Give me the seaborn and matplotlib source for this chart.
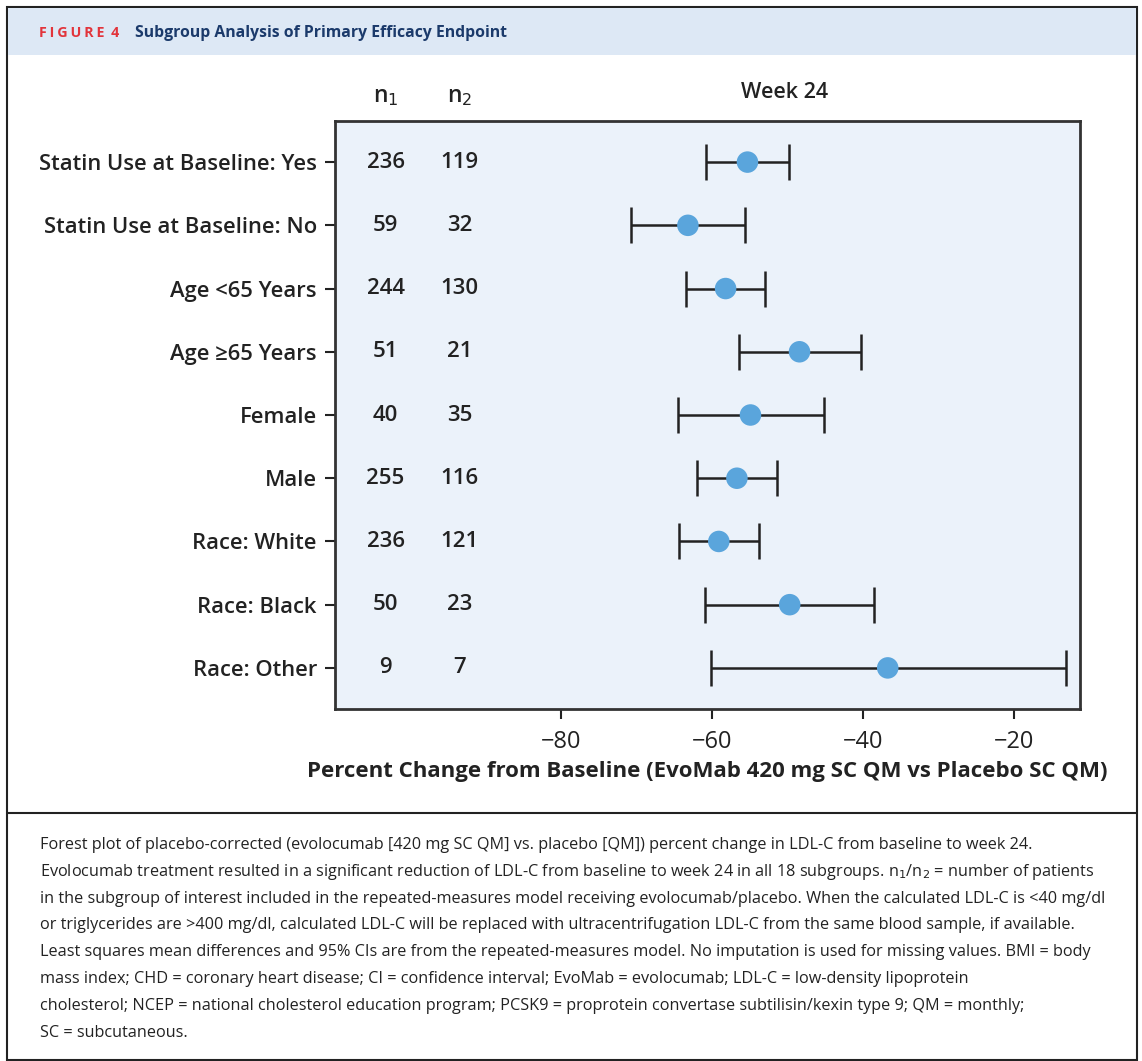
import matplotlib
matplotlib.use("Agg")
import matplotlib.pyplot as plt
import seaborn as sns
import pandas as pd
from matplotlib.patches import Rectangle
from matplotlib.lines import Line2D

# Data
subgroups = ['Statin Use at Baseline: Yes', 'Statin Use at Baseline: No',
             'Age <65 Years', 'Age \u226565 Years', 'Female', 'Male',
             'Race: White', 'Race: Black', 'Race: Other']
n1 = [236, 59, 244, 51, 40, 255, 236, 50, 9]
n2 = [119, 32, 130, 21, 35, 116, 121, 23, 7]
estimate = [-55.3, -63.2, -58.2, -48.4, -54.9, -56.7, -59.1, -49.7, -36.7]
ci_low = [-60.8, -70.8, -63.4, -56.4, -64.5, -62.0, -64.4, -60.9, -60.1]
ci_high = [-49.8, -55.6, -53.0, -40.2, -45.2, -51.4, -53.8, -38.5, -13.1]
x_ticks = [-80, -60, -40, -20]

df = pd.DataFrame({'group': subgroups, 'n1': n1, 'n2': n2,
                   'est': estimate, 'lo': ci_low, 'hi': ci_high})
df['row'] = range(len(df))

sns.set_style("white")
plt.rcParams['font.family'] = ['Open Sans', 'DejaVu Sans']

W, H = 1142, 1061
fig = plt.figure(figsize=(W / 100, H / 100), dpi=100)

def fx(px):
    return px / W

def fy(py):
    return 1 - py / H

# outer frame, header band and divider
fig.patches.append(Rectangle((fx(7), fy(1060)), fx(1130), (1053) / H,
                             transform=fig.transFigure, fill=False,
                             edgecolor='#222222', linewidth=1.5))
fig.patches.append(Rectangle((fx(8), fy(55)), fx(1128), 47 / H,
                             transform=fig.transFigure, facecolor='#DDE8F5',
                             edgecolor='none'))
fig.lines.append(Line2D([fx(7), fx(1137)], [fy(813), fy(813)],
                        transform=fig.transFigure, color='#222222', linewidth=1.5))

fig.text(fx(39), fy(33), '\u2009'.join('FIGURE') + ' \u20094', color='#E2343B',
         fontsize=10.3, fontweight='bold', va='center', ha='left',
         family=['Open Sans', 'DejaVu Sans'])
fig.text(fx(135), fy(33), 'Subgroup Analysis of Primary Efficacy Endpoint',
         color='#1B3A6B', fontsize=11.3, fontweight='bold', va='center', ha='left')

# main axes
ax = fig.add_axes([fx(335), 1 - 709 / H, fx(745), 588 / H])
ax.set_facecolor('#EBF2FA')

ax.errorbar(df['est'], df['row'],
            xerr=[df['est'] - df['lo'], df['hi'] - df['est']],
            fmt='none', ecolor='#222222', elinewidth=1.8, capsize=13,
            capthick=1.8, zorder=2)
sns.scatterplot(data=df, x='est', y='row', ax=ax, s=240, color='#5AA5DC',
                edgecolor='none', zorder=3, legend=False)

for _, r in df.iterrows():
    ax.text(-103.3, r['row'], str(r['n1']), ha='center', va='center',
            fontsize=16, fontweight='semibold', color='#222222')
    ax.text(-93.5, r['row'], str(r['n2']), ha='center', va='center',
            fontsize=16, fontweight='semibold', color='#222222')

ax.set_xlim(-110, -11.2)
ax.set_ylim(len(df) - 0.35, -0.65)
ax.set_yticks(df['row'])
ax.set_yticklabels(df['group'], fontsize=15.8, fontweight='semibold',
                   color='#222222')
ax.set_xticks(x_ticks)
ax.set_xticklabels(['\u2212' + str(abs(t)) for t in x_ticks], fontsize=17,
                   color='#222222')
ax.tick_params(axis='both', direction='out', length=7, width=1.5,
               color='#222222', left=True, bottom=True, pad=8)
ax.tick_params(axis='y', pad=6)
ax.set_xlabel('Percent Change from Baseline (EvoMab 420 mg SC QM vs Placebo SC QM)',
              fontsize=16, fontweight='bold', color='#222222', labelpad=5)
ax.set_ylabel('')
for s in ax.spines.values():
    s.set_color('#333333')
    s.set_linewidth(2)

# column headers
ax.text(-103.3, -1.05, r'n$_1$', ha='center', va='center', fontsize=16.5,
        fontweight='semibold', color='#222222')
ax.text(-93.5, -1.05, r'n$_2$', ha='center', va='center', fontsize=16.5,
        fontweight='semibold', color='#222222')
ax.text(-50.4, -1.1, 'Week 24', ha='center', va='center', fontsize=15.5,
        fontweight='semibold', color='#222222')

caption = [
    'Forest plot of placebo-corrected (evolocumab [420 mg SC QM] vs. placebo [QM]) percent change in LDL-C from baseline to week 24.',
    'Evolocumab treatment resulted in a significant reduction of LDL-C from baseline to week 24 in all 18 subgroups. n$_1$/n$_2$ = number of patients',
    'in the subgroup of interest included in the repeated-measures model receiving evolocumab/placebo. When the calculated LDL-C is <40 mg/dl',
    'or triglycerides are >400 mg/dl, calculated LDL-C will be replaced with ultracentrifugation LDL-C from the same blood sample, if available.',
    'Least squares mean differences and 95% CIs are from the repeated-measures model. No imputation is used for missing values. BMI = body',
    'mass index; CHD = coronary heart disease; CI = confidence interval; EvoMab = evolocumab; LDL-C = low-density lipoprotein',
    'cholesterol; NCEP = national cholesterol education program; PCSK9 = proprotein convertase subtilisin/kexin type 9; QM = monthly;',
    'SC = subcutaneous.',
]
for i, line in enumerate(caption):
    fig.text(fx(40), fy(845 + i * 26.8), line, fontsize=11.7, color='#222222',
             ha='left', va='center')

fig.savefig('out.png', dpi=100)
